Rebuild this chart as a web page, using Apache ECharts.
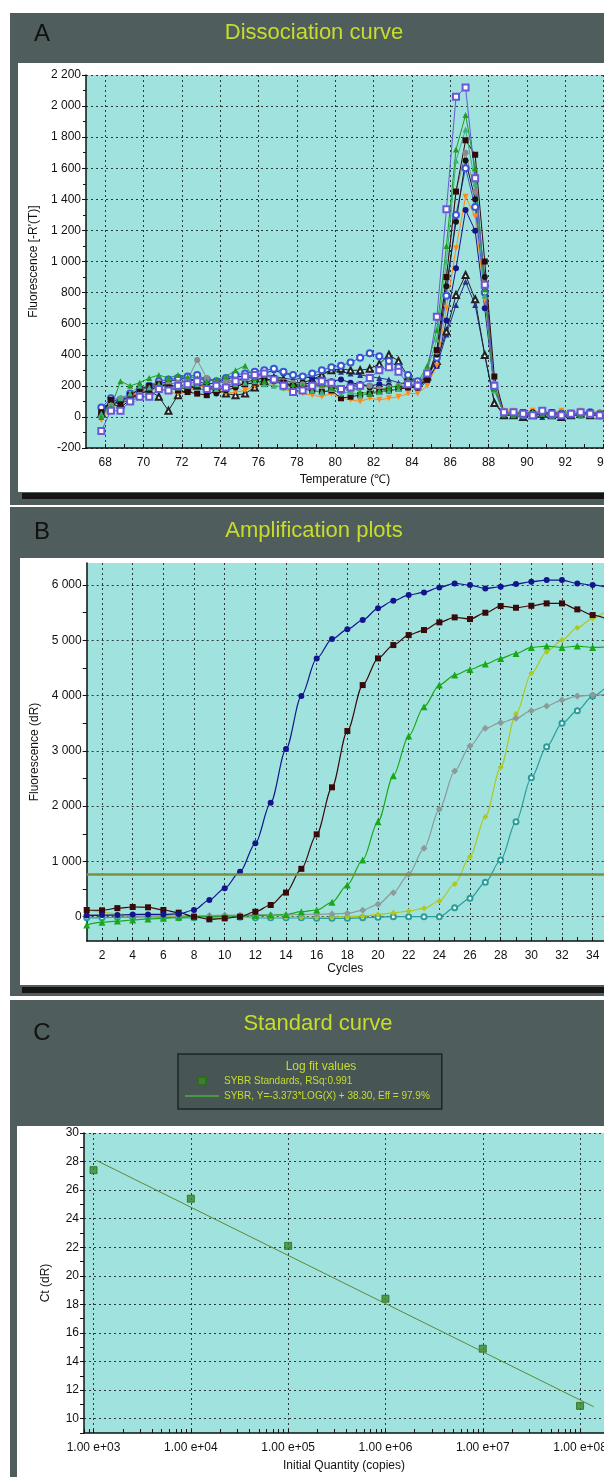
<!DOCTYPE html>
<html><head><meta charset="utf-8">
<script src="https://cdn.jsdelivr.net/npm/echarts@6/dist/echarts.min.js"></script>
<style>html,body{margin:0;padding:0;background:#fff}#c{width:604px;height:1477px}</style>
</head><body><div id="c"></div>
<script>
// ---------- Panel A: dissociation curve ----------
const meltTemps = [67.8,68.3,68.8,69.3,69.8,70.3,70.8,71.3,71.8,72.3,72.8,73.3,73.8,74.3,74.8,75.3,75.8,76.3,76.8,77.3,77.8,78.3,78.8,79.3,79.8,80.3,80.8,81.3,81.8,82.3,82.8,83.3,83.8,84.3,84.8,85.3,85.8,86.3,86.8,87.3,87.8,88.3,88.8,89.3,89.8,90.3,90.8,91.3,91.8,92.3,92.8,93.3,93.8];
const meltNavyTri = [40,90,120,140,170,190,200,210,220,230, 240,250,230,220,230,250,260,270,260,250, 240,250,260,280,300,290,280,270,260,250, 240,220,210, 200,250,330,530,720,870,720,400,100,15, 10,20,10,0,10,20,10,10,20,10];
const meltOpenTri = [20,100,80,120,150,170,130,40,140,180, 200,200,180,150,140,150,190,230,250,240, 220,220,240,270,300,310,300,300,310,340, 400,360,260, 220,260,360,550,784,913,757,398,90,10, 10,0,10,20,10,0,10,20,10,10];
const meltNavy = [30,70,110,130,150,180,210,230,240,250, 230,210,220,240,260,260,270,280,300,280, 270,260,250,240,230,240,220,210,200,210, 200,190,200, 180,230,330,620,956,1331,1198,700,180,20, 10,20,10,20,30,10,20,10,20,10];
const meltOrange = [-20,50,90,130,160,170,180,160,150,160, 200,190,180,150,160,170,200,220,210,180, 160,150,140,130,150,120,110,100,120,110, 120,130,150, 150,200,330,700,1085,1417,1290,752,210,40, 40,30,40,30,20,40,30,40,30,20];
const meltBlue = [60,120,110,150,170,200,230,240,250,260, 270,240,230,250,270,280,290,300,310,290, 270,260,280,300,320,330,350,380,410,390, 360,320,270, 230,270,380,780,1300,1600,1350,800,190,20, 20,10,20,30,10,20,10,20,30,10];
const meltBlackCirc = [10,90,60,110,150,170,200,210,190,180, 200,210,150,170,190,220,240,250,230,210, 200,220,210,200,190,180,200,210,190,180, 170,180,190, 190,240,400,840,1256,1650,1400,900,200,20, 10,20,30,10,20,10,20,10,30,20];
const meltGray = [0,80,120,140,170,200,220,210,220,240, 366,250,220,230,240,230,260,270,250,230, 220,210,200,190,200,180,170,190,200,180, 190,200,210, 210,260,420,900,1450,1700,1450,850,200,20, 20,10,20,30,20,10,20,20,10,30];
const meltBlackSq = [30,110,90,140,180,200,210,190,170,160, 150,140,170,190,200,210,220,230,250,220, 200,180,170,160,170,120,130,140,150,160, 170,180,190, 200,240,430,900,1450,1780,1687,1000,260,30, 20,30,10,20,30,20,10,30,20,20];
const meltTeal = [20,80,120,150,200,190,210,180,190,200, 210,200,180,200,210,220,230,210,200,190, 180,190,170,160,180,150,160,140,150,160, 170,180,210, 210,300,500,1000,1650,1850,1500,780,170,25, 20,10,30,20,10,20,30,10,20,10];
const meltGreen = [0,60,230,200,220,250,270,250,270,260, 250,230,240,260,300,330,250,230,240,220, 210,200,200,210,190,170,200,160,150,170, 190,200,240, 220,330,560,1100,1720,1943,1600,820,180,20, 10,30,20,20,10,30,20,10,20,30];
const meltPurple = [-90,40,40,100,130,130,180,170,200,210, 230,180,200,190,230,260,270,280,240,200, 160,170,200,230,220,180,190,200,250,300, 320,290,210, 200,280,645,1336,2060,2120,1535,850,200,30, 30,20,10,40,20,10,20,30,20,10];
const meltTickValues = [68,69,70,71,72,73,74,75,76,77,78,79,80,81,82,83,84,85,86,87,88,89,90,91,92,93,94];
const meltLabelValues = [68,70,72,74,76,78,80,82,84,86,88,90,92,94];

// ---------- Panel B: amplification plots ----------
const ampCycles = [1,2,3,4,5,6,7,8,9,10,11,12,13,14,15,16,17,18,19,20,21,22,23,24,25,26,27,28,29,30,31,32,33,34,35];
const ampBlue = [20,30,30,40,40,40,50,121,302,513, 814,1328,2063,3034,3993,4674,5023,5199,5367,5579, 5717,5819,5868,5958,6031,6000,5940,5970,6019,6061, 6091,6091,6031,6000,5960];
const ampRed = [121,115,155,175,170,121,73,0,-48,-30, 0,90,211,436,866,1490,2341,3359,4191,4674, 4915,5096,5187,5326,5416,5386,5500,5621,5590,5626, 5669,5669,5561,5458,5380];
const ampGreen = [-150,-100,-80,-60,-40,-30,-10,0,0,10, 10,20,30,40,90,121,260,573,1026,1719, 2551,3269,3799,4192,4372,4475,4571,4674,4764,4873, 4897,4873,4897,4873,4880];
const ampGray = [40,30,20,10,10,20,10,20,20,30, 30,40,30,30,40,40,50,60,115,224, 434,767,1237,1942,2635,3088,3408,3510,3589,3727, 3812,3920,3992,4010,4020];
const ampYellow = [130,80,50,30,20,10,0,-10,-20,-20, -10,-10,-10,-10,-10,-10,-10,0,10,40, 70,100,151,284,591,1085,1809,2702,3667,4403, 4794,5005,5228,5398,5561];
const ampTeal = [-20,-20,-10,-10,0,-10,-20,-20,-10,-10, -10,-20,-20,-20,-20,-30,-30,-30,-20,-10, 0,0,0,0,163,332,622,1026,1719,2515, 3076,3498,3727,3992,4191];
const ampThreshold = 773;
const ampTickValues = [2,3,4,5,6,7,8,9,10,11,12,13,14,15,16,17,18,19,20,21,22,23,24,25,26,27,28,29,30,31,32,33,34];
const ampLabelValues = [2,4,6,8,10,12,14,16,18,20,22,24,26,28,30,32,34];
const ampYTickValues = [0,500,1000,1500,2000,2500,3000,3500,4000,4500,5000,5500,6000];
const ampYLabelValues = [0,1000,2000,3000,4000,5000,6000];

// ---------- Panel C: standard curve ----------
const stdQuantity = [1e3,1e4,1e5,1e6,1e7,1e8];
const stdCt = [27.4,25.4,22.1,18.4,14.9,10.9];
const fitQuantity = [1.07e3, 1.38e8];
const fitCt = [28.08, 10.84];
const stdDecades = [3,4,5,6,7,8];
const stdYLabelValues = [10,12,14,16,18,20,22,24,26,28,30];
const stdYTickValues = [9,10,11,12,13,14,15,16,17,18,19,20,21,22,23,24,25,26,27,28,29,30];
const stdPointName = 'SYBR Standards, RSq:0.991';
const stdFitName = 'SYBR, Y=-3.373*LOG(X) + 38.30, Eff = 97.9%';

// ---------- styling ----------
const FONT = '"Liberation Sans", Arial, sans-serif';
const DARK = '#4f5e5d', CYAN = '#a0e2de', YEL = '#c8dc2a', INK = '#111';
const dotted = {show:true, lineStyle:{color:'#2e3838', type:[2,3], width:1}};
const lbl = {color:INK, fontSize:12, fontFamily:FONT};
function spaced(v){ return String(v).replace(/\B(?=(\d{3})+(?!\d))/g,' '); }
function zip(xs, ys){ return xs.map((x,i)=>[x, ys[i]]); }
function minorLog(decs, lo, hi){
  const out = [];
  decs.concat([2]).forEach(d=>{ for(let k=1;k<=9;k++){ const v=d+Math.log10(k); if(v>=lo&&v<=hi) out.push(v);} });
  return out;
}
function mainAxis(o){
  return Object.assign({type:'value', axisLine:{show:true, onZero:false, lineStyle:{color:INK, width:1.5}},
    splitLine:{show:false}, nameLocation:'middle', nameTextStyle:{color:INK, fontSize:12, fontFamily:FONT}}, o);
}
function gridAxis(o){
  return Object.assign({type:'value', axisLine:{show:false}, axisLabel:{show:false}, splitLine:dotted}, o);
}

const meltSpecs = [
  [meltNavyTri,'#26308e','triangle',0],[meltOpenTri,'#222','emptyTriangle',0],[meltNavy,'#16168a','circle',0],
  [meltOrange,'#ff8a18','triangle',180],[meltBlue,'#3a56d4','emptyCircle',0],[meltBlackCirc,'#151515','circle',0],
  [meltGray,'#8a8a8a','circle',0],[meltBlackSq,'#300a0a','rect',0],[meltTeal,'#3cb080','triangle',0],
  [meltGreen,'#1f9e1f','triangle',0],[meltPurple,'#6a58d8','emptyRect',0]
];
const ampSpecs = [
  [ampTeal,'#2a9c9c','emptyCircle',5],[ampYellow,'#b0c81e','diamond',6],[ampGray,'#8c9a9a','diamond',7],
  [ampGreen,'#1aa81a','triangle',7],[ampRed,'#3a0a0a','rect',6],[ampBlue,'#14148c','circle',6]
];

const series = [];
meltSpecs.forEach(s=>series.push({type:'line', xAxisIndex:0, yAxisIndex:0, data:zip(meltTemps,s[0]),
  symbol:s[2], symbolRotate:s[3], symbolSize:6, color:s[1], lineStyle:{width:1}, itemStyle:{borderWidth:1}, silent:true, animation:false}));
ampSpecs.forEach((s,i)=>series.push({type:'line', xAxisIndex:2, yAxisIndex:1, data:zip(ampCycles,s[0]),
  symbol:s[2], symbolSize:s[3], color:s[1], smooth:0.3, smoothMonotone:'x', lineStyle:{width:1.2}, silent:true, animation:false,
  markLine: i===0 ? {silent:true, symbol:'none', label:{show:false}, animation:false,
     lineStyle:{color:'#7a9040', width:2.5, type:'solid'}, data:[{yAxis:ampThreshold}]} : undefined}));
series.push({type:'line', name:stdFitName, xAxisIndex:4, yAxisIndex:3,
  data:zip(fitQuantity.map(Math.log10), fitCt), symbol:'none', color:'#4caf3c', lineStyle:{width:1, color:'#5a8a3a'}, animation:false});
series.push({type:'scatter', name:stdPointName, xAxisIndex:4, yAxisIndex:3,
  data:zip(stdQuantity.map(Math.log10), stdCt), symbol:'rect', symbolSize:7, color:'#3a8a2a',
  itemStyle:{borderColor:'#2a6a1a', borderWidth:1}, animation:false});

const rect = (x,y,w,h,fill,z)=>({type:'rect', shape:{x,y,width:w,height:h}, style:{fill}, z:z||-10, silent:true});
const txt = (t,x,y,size,fill,align,z)=>({type:'text', z:z||-5, silent:true,
  style:{text:t, x, y, fill, font:size+'px '+FONT, textAlign:align||'center', align:align||'center',
         textVerticalAlign:'middle', verticalAlign:'middle'}});

const option = {
  animation:false,
  backgroundColor:'#ffffff',
  graphic:{elements:[
    rect(10,13,594,492,DARK), rect(10,507,594,489,DARK), rect(10,1000,594,477,DARK),
    rect(18,63,586,429,'#ffffff'), rect(22,493,582,6,'#151515'),
    rect(20,558,584,427,'#ffffff'), rect(22,987,582,6,'#151515'),
    rect(17,1126,587,351,'#ffffff'),
    txt('A',42,34,24,INK), txt('Dissociation curve',314,33,22,YEL),
    txt('B',42,532,24,INK), txt('Amplification plots',314,531,22,YEL),
    txt('C',42,1033,24,INK), txt('Standard curve',318,1024,22,YEL),
    txt('Log fit values',321,1067,12,YEL,'center',20)
  ]},
  legend:{data:[{name:stdPointName, icon:'path://M0 0H10V10H0Z'}, {name:stdFitName, icon:'path://M0 0H40V1.5H0Z'}],
    orient:'vertical', left:178, top:1054, padding:[22,12,8,7], itemGap:5, itemWidth:34, itemHeight:8,
    backgroundColor:'#475655', borderColor:'#1e2626', borderWidth:1.5,
    textStyle:{color:YEL, fontSize:10, fontFamily:FONT}, selectedMode:false},
  grid:[
    {left:86, top:75, right:0, height:373, outerBoundsMode:'none', containLabel:false, show:true, backgroundColor:CYAN, borderWidth:0},
    {left:86.7, top:563, right:0, height:378, outerBoundsMode:'none', containLabel:false, show:true, backgroundColor:CYAN, borderWidth:0},
    {left:84, top:1133, right:0, height:300, outerBoundsMode:'none', containLabel:false, show:true, backgroundColor:CYAN, borderWidth:0}
  ],
  xAxis:[
    mainAxis({gridIndex:0, min:67, max:94.02, name:'Temperature (\u2103)', nameGap:26,
      axisTick:{show:true, inside:true, length:4, lineStyle:{color:INK}, customValues:meltTickValues},
      axisLabel:Object.assign({customValues:meltLabelValues, margin:9}, lbl)}),
    gridAxis({gridIndex:0, min:67, max:94.02, axisTick:{show:false, customValues:meltLabelValues}}),
    mainAxis({gridIndex:1, min:1, max:34.74, name:'Cycles', nameGap:22,
      axisTick:{show:true, inside:true, length:4, lineStyle:{color:INK}, customValues:ampTickValues},
      axisLabel:Object.assign({customValues:ampLabelValues, margin:9}, lbl)}),
    gridAxis({gridIndex:1, min:1, max:34.74, axisTick:{show:false, customValues:ampLabelValues}}),
    mainAxis({gridIndex:2, min:2.902, max:8.246, name:'Initial Quantity (copies)', nameGap:27,
      axisTick:{show:true, inside:true, length:4, lineStyle:{color:INK}, customValues:minorLog(stdDecades,2.902,8.246)},
      axisLabel:Object.assign({customValues:stdDecades, margin:9, formatter:v=>'1.00 e+0'+Math.round(v)}, lbl)}),
    gridAxis({gridIndex:2, min:2.902, max:8.246, axisTick:{show:false, customValues:stdDecades}})
  ],
  yAxis:[
    mainAxis({gridIndex:0, min:-200, max:2200, interval:200, name:'Fluorescence [-R\'(T)]', nameGap:46, nameRotate:90,
      axisTick:{show:true, length:4, lineStyle:{color:INK}}, minorTick:{show:true, splitNumber:2, length:3, lineStyle:{color:INK}},
      axisLabel:Object.assign({formatter:spaced, margin:5}, lbl), splitLine:dotted}),
    mainAxis({gridIndex:1, min:-440, max:6400, name:'Fluorescence (dR)', nameGap:46, nameRotate:90,
      axisTick:{show:true, length:4, lineStyle:{color:INK}, customValues:ampYTickValues},
      axisLabel:Object.assign({customValues:ampYLabelValues, formatter:spaced, margin:5}, lbl)}),
    gridAxis({gridIndex:1, min:-440, max:6400, axisTick:{show:false, customValues:ampYLabelValues}}),
    mainAxis({gridIndex:2, min:9, max:30, name:'Ct (dR)', nameGap:32, nameRotate:90,
      axisTick:{show:true, length:4, lineStyle:{color:INK}, customValues:stdYTickValues},
      axisLabel:Object.assign({customValues:stdYLabelValues, margin:5}, lbl)}),
    gridAxis({gridIndex:2, min:9, max:30, axisTick:{show:false, customValues:stdYLabelValues}})
  ],
  series
};
const chart = echarts.init(document.getElementById('c'), null, {renderer:'canvas'});
chart.setOption(option);
</script></body></html>
